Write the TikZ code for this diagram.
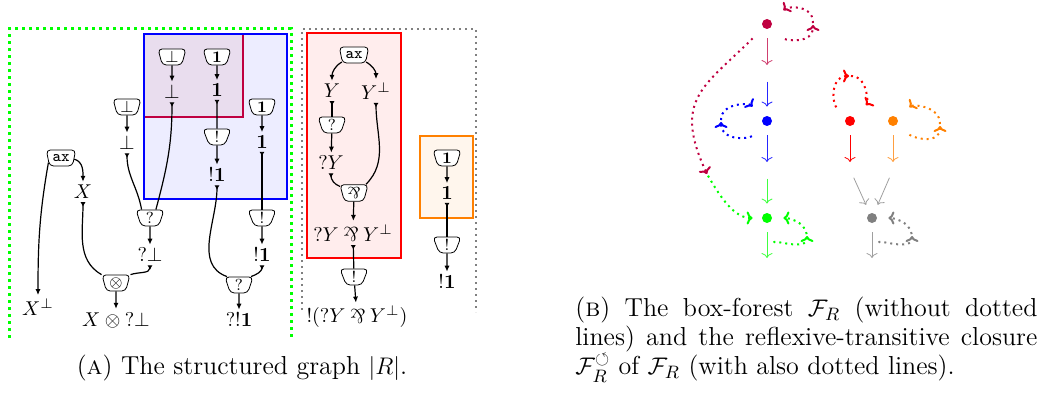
\documentclass[tikz,border=0pt]{standalone}
\usepackage{amsmath,amssymb}
\usepackage{graphicx}
\usepackage{tikz}
\usetikzlibrary{shapes.geometric,arrows.meta}
\definecolor{boxMix}{RGB}{233,221,238}
\newcommand{\parrsym}{\mathbin{\rotatebox[origin=c]{180}{\&}}}

\begin{document}
\begin{tikzpicture}[x=0.5pt,y=0.5pt,
    cell/.style={draw,thin,fill=white,trapezium,shape border rotate=180,
      trapezium left angle=75,trapezium right angle=75,trapezium stretches=true,
      minimum width=14pt,minimum height=8pt,rounded corners=2pt,
      inner xsep=1.5pt,inner ysep=1.2pt,font=\footnotesize},
    fml/.style={inner sep=1.5pt},
    conc/.style={semithick,-{Latex[length=3pt,width=2.6pt]}},
    prem/.style={semithick,{Latex[reversed,length=2.2pt,width=2.6pt]}-},
    fdot/.style={circle,fill=#1,inner sep=0pt,minimum size=5pt},
    treeA/.style={#1,-{To[length=2.5pt,width=5.5pt]},shorten <=4.5pt,shorten >=3.75pt},
    treeB/.style={#1,-{To[length=2.5pt,width=5.5pt]},shorten <=4.5pt,shorten >=4.5pt},
    clos/.style={#1,dotted,line width=1pt,-{To[length=3pt,width=6.5pt]}}]
  \useasboundingbox (0,0) rectangle (1044,392);
  % Boxes
  \fill[blue!7] (144,193) rectangle (287,358);
  \draw[purple,thick,fill=boxMix] (144,275) rectangle (243,358);
  \draw[blue,thick] (144,193) rectangle (287,358);
  \draw[red,thick,fill=red!7] (307,134) rectangle (401,359);
  \draw[orange,thick,fill=orange!7] (420,174) rectangle (473,256);
  \draw[green,dotted,line width=1.5pt] (9,54) -- (9,363) -- (291,363) -- (291,54);
  \draw[gray,dotted,line width=1pt] (302,82) -- (302,363) -- (476,363) -- (476,80);
  % Left graph
  \node[cell] (axA) at (61,234) {\texttt{ax}};
  \node[fml] (X) at (83,200) {$X$};
  \node[fml] (Xp) at (38,85) {$X^\bot$};
  \node[cell] (botcA) at (127,285) {$\bot$};
  \node[fml] (botA) at (127,249) {$\bot$};
  \node[cell] (botcB) at (172,335) {$\bot$};
  \node[fml] (botB) at (172,300) {$\bot$};
  \node[cell] (whycA) at (150,174) {$?$};
  \node[fml] (whybot) at (150,137) {$?\bot$};
  \node[cell] (tensc) at (116,109) {$\otimes$};
  \node[fml] (tens) at (116,72) {$X\otimes {?}\bot$};
  \node[cell] (onecA) at (217,335) {$\mathbf{1}$};
  \node[fml] (oneA) at (217,302) {$\mathbf{1}$};
  \node[cell] (bangcA) at (217,255) {$!$};
  \node[fml] (bangoneA) at (217,217) {$!\mathbf{1}$};
  \node[cell] (onecB) at (262,285) {$\mathbf{1}$};
  \node[fml] (oneB) at (262,250) {$\mathbf{1}$};
  \node[cell] (bangcB) at (262,174) {$!$};
  \node[fml] (bangoneB) at (262,137) {$!\mathbf{1}$};
  \node[cell] (whycB) at (239,107) {$?$};
  \node[fml] (whybang) at (239,72) {$?!\mathbf{1}$};
  \draw[conc] (axA.-5) to[out=-15,in=90] (X);
  \draw[conc] (axA.-160) to[out=-100,in=90] (Xp);
  \draw[conc] (botcA) -- (botA);
  \draw[conc] (botcB) -- (botB);
  \draw[prem] (botA) to[out=-90,in=100] (whycA.135);
  \draw[prem] (botB) to[out=-90,in=75] (whycA.55);
  \draw[conc] (whycA) -- (whybot);
  \draw[prem] (X) to[out=-90,in=150] (tensc.150);
  \draw[prem] (whybot) to[out=-90,in=20] (tensc.30);
  \draw[conc] (tensc) -- (tens);
  \draw[conc] (onecA) -- (oneA);
  \draw[prem] (oneA) -- (bangcA);
  \draw[conc] (bangcA) -- (bangoneA);
  \draw[conc] (onecB) -- (oneB);
  \draw[prem] (oneB) -- (bangcB);
  \draw[conc] (bangcB) -- (bangoneB);
  \draw[prem] (bangoneA) to[out=-90,in=160] (whycB.145);
  \draw[prem] (bangoneB) to[out=-90,in=20] (whycB.35);
  \draw[conc] (whycB) -- (whybang);
  % Middle graph
  \node[cell] (axB) at (354,337) {\texttt{ax}};
  \node[fml] (Y) at (332,301) {$Y$};
  \node[fml] (Yp) at (376,301) {$Y^\bot$};
  \node[cell] (whycC) at (332,267) {$?$};
  \node[fml] (whyY) at (331,229) {$?Y$};
  \node[cell] (parc) at (354,199) {$\parrsym$};
  \node[fml] (par) at (353,159) {$?Y\parrsym Y^\bot$};
  \node[cell] (bangcC) at (354,115) {$!$};
  \node[fml] (bangpar) at (357,75) {$!(?Y\parrsym Y^\bot)$};
  \draw[conc] (axB) to[out=210,in=90] (Y);
  \draw[conc] (axB) to[out=-30,in=90] (Yp);
  \draw[prem] (Y) -- (whycC);
  \draw[conc] (whycC) -- (whyY);
  \draw[prem] (whyY) to[out=-90,in=160] (parc.155);
  \draw[prem] (Yp) to[out=-90,in=45] (parc.36);
  \draw[conc] (parc) -- (par);
  \draw[prem] (par) -- (bangcC);
  \draw[conc] (bangcC) -- (bangpar);
  % Orange box
  \node[cell] (onecC) at (447,234) {$\mathbf{1}$};
  \node[fml] (oneC) at (447,199) {$\mathbf{1}$};
  \node[cell] (bangcD) at (447,147) {$!$};
  \node[fml] (bangoneC) at (447,110) {$!\mathbf{1}$};
  \draw[conc] (onecC) -- (oneC);
  \draw[prem] (oneC) -- (bangcD);
  \draw[conc] (bangcD) -- (bangoneC);
  % Forest
  \node[fdot=purple] (crim) at (767,368) {};
  \node[fdot=blue] (blu) at (767,271) {};
  \node[fdot=green] (grn) at (767,174) {};
  \node[fdot=red] (rd) at (850,271) {};
  \node[fdot=orange] (org) at (893,271) {};
  \node[fdot=gray] (gry) at (872,174) {};
  \coordinate (mCB) at (767,319.5);
  \coordinate (mBG) at (767,222.5);
  \coordinate (mRG) at (850,222.5);
  \coordinate (mOG) at (893,222.5);
  \coordinate (mG) at (767,126.5);
  \coordinate (mY) at (872,126.5);
  \draw[treeA=purple!75] (crim) -- (mCB);
  \draw[treeB=blue!85] (mCB) -- (blu);
  \draw[treeA=blue!85] (blu) -- (mBG);
  \draw[treeB=green!75] (mBG) -- (grn);
  \draw[treeA=green!75] (grn) -- (mG);
  \draw[treeA=red] (rd) -- (mRG);
  \draw[treeA=orange!75] (org) -- (mOG);
  \draw[treeB=gray!75] (mRG) -- (gry);
  \draw[treeB=gray!75] (mOG) -- (gry);
  \draw[treeA=gray!75] (gry) -- (mY);
  % Closure (dotted)
  \coordinate (lC) at (813,367);
  \coordinate (lB) at (721,270);
  \coordinate (lR) at (849,316);
  \coordinate (lO) at (940,266);
  \coordinate (lG) at (807,156);
  \coordinate (lY) at (912,156);
  \coordinate (mCG) at (707,218);
  \draw[clos=purple,shorten <=9pt] (crim) to[out=-40,in=-90,looseness=1.2] (lC);
  \draw[clos=purple,shorten <=1pt,shorten >=8pt] (lC) to[out=90,in=40,looseness=1.3] (crim);
  \draw[clos=blue,shorten <=8pt] (blu) to[out=-135,in=-90,looseness=1.2] (lB);
  \draw[clos=blue,shorten <=1pt,shorten >=7.5pt] (lB) to[out=90,in=135,looseness=1.2] (blu);
  \draw[clos=red,shorten <=7pt] (rd) to[out=135,in=180,looseness=1.2] (lR);
  \draw[clos=red,shorten <=1pt,shorten >=8.5pt] (lR) to[out=0,in=45,looseness=1.2] (rd);
  \draw[clos=orange,shorten <=8pt] (org) to[out=-40,in=-90,looseness=1.2] (lO);
  \draw[clos=orange,shorten <=1pt,shorten >=8pt] (lO) to[out=90,in=40,looseness=1.2] (org);
  \draw[clos=green,shorten <=10pt] (grn) to[out=-75,in=-90] (lG);
  \draw[clos=green,shorten <=1pt,shorten >=5.5pt] (lG) to[out=100,in=0] (grn);
  \draw[clos=gray,shorten <=10pt] (gry) to[out=-75,in=-90] (lY);
  \draw[clos=gray,shorten <=1pt,shorten >=5.5pt] (lY) to[out=100,in=0] (gry);
  \draw[clos=purple,shorten <=7.5pt] (crim) to[out=-135,in=115,looseness=1.35] (mCG);
  \draw[clos=green,shorten <=1pt,shorten >=4.5pt] (mCG) to[out=-60,in=180] (grn);
  % Captions
  \node[font=\fontsize{13}{14.5}\selectfont,anchor=base,inner sep=0pt] (capA) at (242,18)
    {(\textsc{a}) The structured graph $|R|$.};
  \node[font=\fontsize{13}{14.5}\selectfont,anchor=base west,align=left,inner sep=0pt] (capB) at (575,18)
    {\makebox[231pt][s]{(\textsc{b}) The box-forest $\mathcal{F}_R$ (without dotted}\\
     \makebox[231pt][s]{lines) and the reflexive-transitive closure}\\
     $\mathcal{F}_R^{\circlearrowleft}$ of $\mathcal{F}_R$ (with also dotted lines).};
\end{tikzpicture}
\end{document}
